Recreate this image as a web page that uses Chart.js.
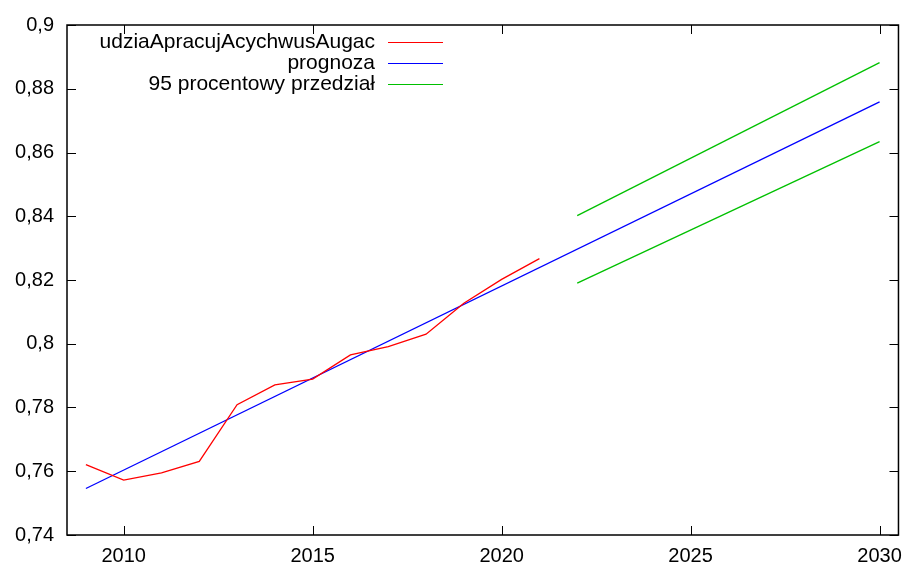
<!DOCTYPE html>
<html>
<head>
<meta charset="utf-8">
<script src="https://cdn.jsdelivr.net/npm/chart.js@4.4.1/dist/chart.umd.min.js"></script>
<style>
  html, body { margin: 0; padding: 0; background: #fff; }
  #wrap { width: 911px; height: 567px; }
</style>
</head>
<body>
<div id="wrap"><canvas id="wykres" width="911" height="567"></canvas></div>
<script>
// dane
const lataDane = [2009, 2010, 2011, 2012, 2013, 2014, 2015, 2016, 2017, 2018, 2019, 2020, 2021];
const udzial = [0.7621, 0.7572, 0.7595, 0.7631, 0.7809, 0.7871, 0.7889, 0.7965, 0.7991, 0.8030, 0.8127, 0.8202, 0.8267];

const lataPrognoza = [2009, 2030];
const prognoza = [0.7546, 0.8759];

const lataPrzedzial = [2022, 2030];
const przedzialGorny = [0.8402, 0.8882];
const przedzialDolny = [0.8190, 0.8634];

const xTicks = [2010, 2015, 2020, 2025, 2030];
const yTicks = [0.74, 0.76, 0.78, 0.8, 0.82, 0.84, 0.86, 0.88, 0.9];

const etykiety = ["udziaApracujAcychwusAugac", "prognoza", "95 procentowy przedział"];
const kolory = ["#ff0000", "#0000ff", "#00c000"];

const FONT = "Liberation Sans, Arial, Helvetica, sans-serif";

const punkty = (xs, ys) => xs.map((x, i) => ({ x: x, y: ys[i] }));

// ramka, ticki do środka i legenda w stylu gnuplota
const ramkaPlugin = {
    id: "ramka",
    afterDatasetsDraw(chart) {
        const { ctx, chartArea: a, scales } = chart;
        ctx.save();
        ctx.strokeStyle = "#000";
        ctx.lineWidth = 1.5;
        ctx.strokeRect(a.left, a.top, a.right - a.left, a.bottom - a.top);
        ctx.lineWidth = 1;
        const t = 9;
        ctx.beginPath();
        xTicks.forEach(v => {
            const px = Math.round(scales.x.getPixelForValue(v)) + 0.5;
            ctx.moveTo(px, a.bottom); ctx.lineTo(px, a.bottom - t);
            ctx.moveTo(px, a.top); ctx.lineTo(px, a.top + t);
        });
        yTicks.forEach(v => {
            const py = Math.round(scales.y.getPixelForValue(v)) + 0.5;
            ctx.moveTo(a.left, py); ctx.lineTo(a.left + t, py);
            ctx.moveTo(a.right, py); ctx.lineTo(a.right - t, py);
        });
        ctx.stroke();

        // legenda
        ctx.font = "21px " + FONT;
        ctx.textAlign = "right";
        ctx.textBaseline = "middle";
        ctx.fillStyle = "#000";
        etykiety.forEach((txt, i) => {
            const y = 42 + i * 21;
            ctx.fillText(txt, 375, y);
            ctx.strokeStyle = kolory[i];
            ctx.lineWidth = 1.2;
            ctx.beginPath();
            ctx.moveTo(388, y + 0.5);
            ctx.lineTo(443, y + 0.5);
            ctx.stroke();
        });
        ctx.restore();
    }
};

const wspolne = { borderWidth: 1.3, pointRadius: 0, fill: false, tension: 0 };

new Chart(document.getElementById("wykres").getContext("2d"), {
    type: "line",
    data: {
        datasets: [
            { ...wspolne, label: etykiety[0], data: punkty(lataDane, udzial), borderColor: kolory[0] },
            { ...wspolne, label: etykiety[1], data: punkty(lataPrognoza, prognoza), borderColor: kolory[1] },
            { ...wspolne, label: etykiety[2], data: punkty(lataPrzedzial, przedzialGorny), borderColor: kolory[2] },
            { ...wspolne, label: etykiety[2], data: punkty(lataPrzedzial, przedzialDolny), borderColor: kolory[2] },
        ],
    },
    options: {
        responsive: false,
        animation: false,
        layout: { padding: { top: 23, right: 8, left: 0, bottom: 0 } },
        plugins: { legend: { display: false }, tooltip: { enabled: false } },
        scales: {
            x: {
                type: "linear",
                min: 2008.5,
                max: 2030.5,
                grid: { display: false, drawTicks: false },
                border: { display: false },
                afterBuildTicks: (s) => { s.ticks = xTicks.map(v => ({ value: v })); },
                afterFit: (s) => { s.height = 32; },
                ticks: {
                    color: "#000",
                    padding: 9,
                    maxRotation: 0,
                    font: { family: FONT, size: 20 },
                    callback: (v) => String(v),
                },
            },
            y: {
                min: 0.74,
                max: 0.9,
                grid: { display: false, drawTicks: false },
                border: { display: false },
                afterBuildTicks: (s) => { s.ticks = yTicks.map(v => ({ value: v })); },
                afterFit: (s) => { s.width = 67; },
                ticks: {
                    color: "#000",
                    padding: 13,
                    font: { family: FONT, size: 20 },
                    callback: (v) => String(Math.round(v * 100) / 100).replace(".", ","),
                },
            },
        },
    },
    plugins: [ramkaPlugin],
});
</script>
</body>
</html>
